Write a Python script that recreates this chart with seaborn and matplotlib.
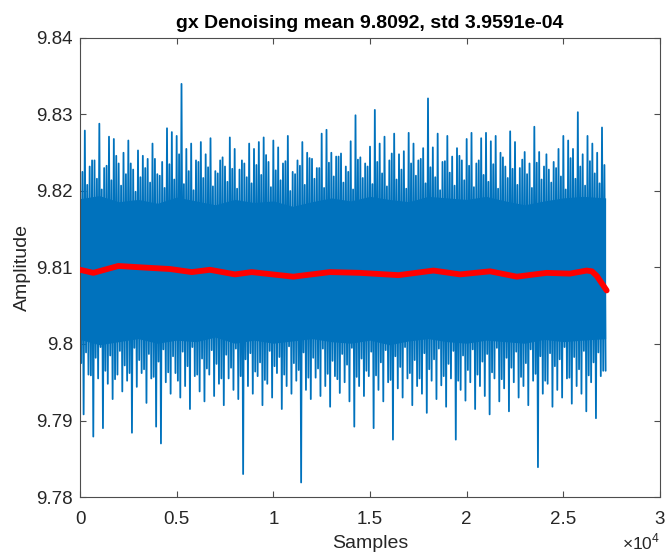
import matplotlib
matplotlib.use("Agg")
import matplotlib.pyplot as plt
import seaborn as sns
import numpy as np
from matplotlib.ticker import FixedLocator, FuncFormatter

sns.set_theme(style="white")
plt.rcParams["font.family"] = ["Liberation Sans", "DejaVu Sans"]
plt.rcParams["mathtext.fontset"] = "custom"
plt.rcParams["mathtext.rm"] = "Liberation Sans"

# noise envelope, one group of tips every 250 samples:
# tall upper tip, short lower tip, short upper tip, tall lower tip
peak_step = 250
upper_peaks = [
    9.8215, 9.8279, 9.8232, 9.8240, 9.8288, 9.8230, 9.8271, 9.8268, 9.8236, 9.8250,
    9.8266, 9.8228, 9.8253, 9.8246, 9.8242, 9.8262, 9.8222, 9.8238, 9.8282, 9.8277,
    9.8272, 9.8340, 9.8255, 9.8262, 9.8240, 9.8264, 9.8248, 9.8269, 9.8226, 9.8240,
    9.8232, 9.8270, 9.8255, 9.8228, 9.8236, 9.8262, 9.8255, 9.8264, 9.8270, 9.8238,
    9.8266, 9.8257, 9.8236, 9.8272, 9.8225, 9.8240, 9.8264, 9.8250, 9.8242, 9.8230,
    9.8275, 9.8280, 9.8250, 9.8245, 9.8249, 9.8232, 9.8265, 9.8299, 9.8244, 9.8236,
    9.8258, 9.8306, 9.8262, 9.8271, 9.8240, 9.8275, 9.8248, 9.8252, 9.8276, 9.8262,
    9.8240, 9.8256, 9.8321, 9.8257, 9.8275, 9.8238, 9.8272, 9.8245, 9.8256, 9.8240,
    9.8268, 9.8276, 9.8236, 9.8269, 9.8276, 9.8265, 9.8272, 9.8250, 9.8232, 9.8278,
    9.8264, 9.8230, 9.8251, 9.8236, 9.8284, 9.8251, 9.8232, 9.8228, 9.8238, 9.8255,
    9.8272, 9.8266, 9.8255, 9.8303, 9.8248, 9.8272, 9.8262, 9.8250, 9.8283,
]
upper_minor = [
    9.8225, 9.8208, 9.8240, 9.8216, 9.8202, 9.8233, 9.8214, 9.8246, 9.8207, 9.8222,
    9.8236, 9.8199, 9.8218, 9.8230, 9.8211, 9.8242, 9.8220, 9.8204, 9.8235, 9.8215,
    9.8248, 9.8209, 9.8226, 9.8201, 9.8238, 9.8217, 9.8231, 9.8206, 9.8223, 9.8244,
    9.8212, 9.8229, 9.8203, 9.8240, 9.8218, 9.8210, 9.8234, 9.8221, 9.8247, 9.8205,
    9.8227, 9.8214, 9.8239, 9.8200, 9.8222, 9.8233, 9.8208, 9.8243, 9.8216, 9.8230,
    9.8204, 9.8237, 9.8219, 9.8245, 9.8211, 9.8225, 9.8202, 9.8241, 9.8217, 9.8232,
    9.8209, 9.8238, 9.8223, 9.8206, 9.8249, 9.8215, 9.8228, 9.8203, 9.8236, 9.8220,
    9.8242, 9.8210, 9.8231, 9.8218, 9.8201, 9.8239, 9.8224, 9.8207, 9.8246, 9.8214,
    9.8233, 9.8205, 9.8240, 9.8221, 9.8212, 9.8235, 9.8203, 9.8244, 9.8217, 9.8229,
    9.8208, 9.8241, 9.8222, 9.8204, 9.8237, 9.8215, 9.8248, 9.8211, 9.8230, 9.8219,
    9.8202, 9.8243, 9.8216, 9.8232, 9.8207, 9.8239, 9.8223, 9.8210, 9.8234,
]
lower_peaks = [
    9.7908, 9.7960, 9.7879, 9.7955, 9.7890, 9.7948, 9.7928, 9.7960, 9.7938, 9.7952,
    9.7884, 9.7944, 9.7962, 9.7923, 9.7955, 9.7892, 9.7870, 9.7950, 9.7935, 9.7962,
    9.7930, 9.7945, 9.7915, 9.7958, 9.7938, 9.7925, 9.7960, 9.7932, 9.7948, 9.7920,
    9.7955, 9.7940, 9.7928, 9.7830, 9.7945, 9.7935, 9.7958, 9.7920, 9.7948, 9.7930,
    9.7962, 9.7915, 9.7945, 9.7935, 9.7952, 9.7819, 9.7940, 9.7928, 9.7956, 9.7932,
    9.7945, 9.7918, 9.7958, 9.7936, 9.7950, 9.7925, 9.7892, 9.7945, 9.7932, 9.7958,
    9.7890, 9.7940, 9.7925, 9.7950, 9.7875, 9.7942, 9.7930, 9.7955, 9.7920, 9.7945,
    9.7935, 9.7910, 9.7952, 9.7928, 9.7946, 9.7918, 9.7955, 9.7875, 9.7940, 9.7926,
    9.7950, 9.7915, 9.7945, 9.7932, 9.7908, 9.7955, 9.7925, 9.7942, 9.7912, 9.7950,
    9.7930, 9.7945, 9.7920, 9.7952, 9.7839, 9.7935, 9.7948, 9.7918, 9.7940, 9.7930,
    9.7955, 9.7922, 9.7945, 9.7935, 9.7912, 9.7950, 9.7903, 9.7958, 9.7965,
]
lower_minor = [
    9.7975, 9.7989, 9.7959, 9.7982, 9.7996, 9.7965, 9.7985, 9.7954, 9.7991, 9.7972,
    9.7962, 9.7995, 9.7979, 9.7967, 9.7987, 9.7957, 9.7977, 9.7993, 9.7963, 9.7984,
    9.7952, 9.7990, 9.7971, 9.7996, 9.7960, 9.7981, 9.7968, 9.7992, 9.7974, 9.7955,
    9.7986, 9.7969, 9.7994, 9.7958, 9.7980, 9.7988, 9.7964, 9.7976, 9.7953, 9.7991,
    9.7971, 9.7983, 9.7960, 9.7997, 9.7975, 9.7966, 9.7989, 9.7956, 9.7982, 9.7968,
    9.7994, 9.7961, 9.7978, 9.7954, 9.7987, 9.7973, 9.7995, 9.7957, 9.7981, 9.7965,
    9.7990, 9.7959, 9.7976, 9.7992, 9.7953, 9.7984, 9.7970, 9.7996, 9.7962, 9.7979,
    9.7955, 9.7988, 9.7967, 9.7980, 9.7994, 9.7958, 9.7974, 9.7991, 9.7952, 9.7985,
    9.7966, 9.7993, 9.7960, 9.7977, 9.7987, 9.7963, 9.7995, 9.7954, 9.7982, 9.7969,
    9.7990, 9.7957, 9.7975, 9.7993, 9.7961, 9.7984, 9.7952, 9.7988, 9.7971, 9.7980,
    9.7996, 9.7956, 9.7983, 9.7967, 9.7991, 9.7959, 9.7976, 9.7989, 9.7965,
]

# solid core of the noise band, every 1000 samples
core_step = 1000
core_hi = [
    9.8190, 9.8194, 9.8186, 9.8189, 9.8184, 9.8192, 9.8187, 9.8182, 9.8189, 9.8185,
    9.8187, 9.8180, 9.8186, 9.8191, 9.8187, 9.8193, 9.8189, 9.8186, 9.8193, 9.8191,
    9.8189, 9.8193, 9.8187, 9.8182, 9.8187, 9.8191, 9.8193, 9.8191,
]
core_lo = [
    9.8006, 9.7999, 9.8003, 9.8007, 9.8001, 9.8005, 9.8003, 9.8009, 9.8001, 9.8005,
    9.8001, 9.8004, 9.8007, 9.8003, 9.8001, 9.8005, 9.7999, 9.8004, 9.8007, 9.8003,
    9.8001, 9.8005, 9.8003, 9.8001, 9.8006, 9.8003, 9.8005, 9.8007,
]

# smoothed (denoised) curve
trend_samples = [0, 690, 1980, 3280, 4660, 5780, 6720, 8020, 8880, 11030, 12930,
                 14480, 16470, 18280, 19660, 21210, 22590, 24140, 25340, 26210,
                 26480, 26730, 27240]
trend_values = [9.8097, 9.8093, 9.8102, 9.8100, 9.8098, 9.8094, 9.8097, 9.8091,
                9.8094, 9.8088, 9.8094, 9.8093, 9.8090, 9.8096, 9.8091, 9.8095,
                9.8088, 9.8093, 9.8092, 9.8096, 9.8095, 9.8089, 9.8070]

x_ticks = [0, 5000, 10000, 15000, 20000, 25000, 30000]
y_ticks = [9.78, 9.79, 9.80, 9.81, 9.82, 9.83, 9.84]
y_ticklabels = ["9.78", "9.79", "9.8", "9.81", "9.82", "9.83", "9.84"]
title = "gx Denoising mean 9.8092, std 3.9591e-04"

# zigzag through the tips in sample order
n = len(upper_peaks)
base = np.arange(n) * peak_step
sig_x = np.column_stack([base, base + peak_step / 4, base + peak_step / 2,
                         base + 3 * peak_step / 4]).ravel()
sig_y = np.column_stack([upper_peaks, lower_minor, upper_minor, lower_peaks]).ravel()
core_x = np.arange(len(core_hi)) * float(core_step)
core_x[-1] = sig_x[-1]

blue = "#0072BD"
dark = "#262626"

fig = plt.figure(figsize=(6.70, 5.54), dpi=100)
ax = fig.add_axes([80 / 670, 57 / 554, 580 / 670, 459 / 554])

ax.fill_between(core_x, core_lo, core_hi, color=blue, linewidth=0, zorder=1)
sns.lineplot(x=sig_x, y=sig_y, ax=ax, color=blue, linewidth=1.3,
             estimator=None, sort=False, zorder=2)
sns.lineplot(x=trend_samples, y=trend_values, ax=ax, color="#FF0000",
             linewidth=4.2, estimator=None, sort=False, zorder=3)

ax.set_xlim(0, 30000)
ax.set_ylim(9.78, 9.84)
ax.xaxis.set_major_locator(FixedLocator(x_ticks))
ax.xaxis.set_major_formatter(FuncFormatter(lambda v, p: f"{v / 1e4:g}"))
ax.set_yticks(y_ticks)
ax.set_yticklabels(y_ticklabels)

ax.tick_params(direction="in", length=4, width=0.8, colors="#4d4d4d",
               labelcolor=dark, labelsize=13.5, top=True, right=True,
               bottom=True, left=True)
ax.tick_params(axis="x", pad=10)
ax.tick_params(axis="y", pad=5)
for s in ax.spines.values():
    s.set_color("#4d4d4d")
    s.set_linewidth(0.8)

ax.set_xlabel("Samples", fontsize=14, color=dark, labelpad=5)
ax.set_ylabel("Amplitude", fontsize=14, color=dark, labelpad=4)
ax.set_title(title, fontsize=14, fontweight="bold", color="black", pad=7)
ax.text(1.0, -0.075, r"$\times10^{4}$", transform=ax.transAxes,
        ha="right", va="top", fontsize=12.5, color=dark)
ax.grid(False)

plt.savefig("out.png", dpi=100)
plt.close()
